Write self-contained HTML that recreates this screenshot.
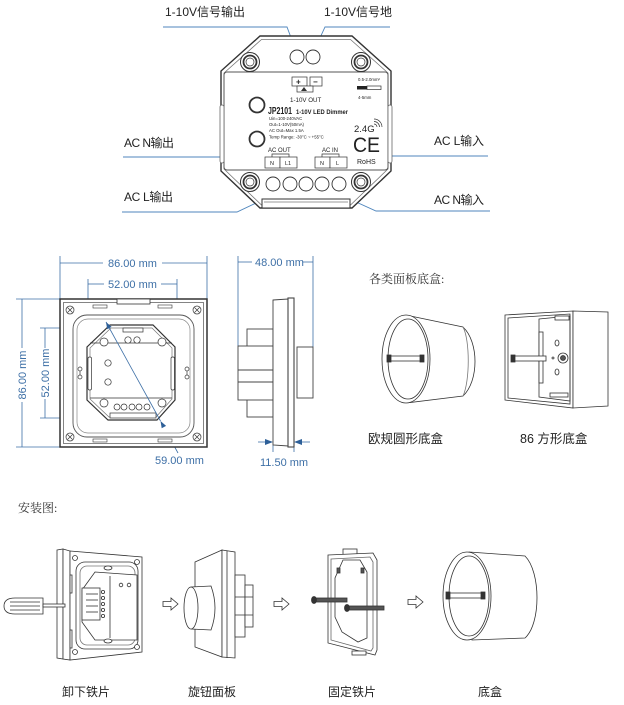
<!DOCTYPE html>
<html><head><meta charset="utf-8"><style>
html,body{margin:0;padding:0;background:#fff;}
svg{display:block}
text{font-family:"Liberation Sans","Noto Sans CJK SC",sans-serif;fill:#222;}
.s{font-family:"Liberation Serif","Noto Serif CJK SC",serif;fill:#333;}
.d{fill:#3d6fa6;font-size:11px;}
</style></head><body>
<svg width="624" height="705" viewBox="0 0 624 705" xmlns="http://www.w3.org/2000/svg">
<rect width="624" height="705" fill="#fff"/>

<!-- ===== TOP DEVICE ===== -->
<g fill="none" stroke="#4f86bd" stroke-width="0.9">
<polyline points="163,27 287,27 296,51"/>
<polyline points="390,27 325,27 314,51"/>
<polyline points="123,157 223,157 273,184"/>
<polyline points="122,212 237,212 288,188"/>
<polyline points="488,156 390,156 340,184"/>
<polyline points="490,211 376,211 323,187"/>
</g>
<text x="165" y="16" font-size="12" textLength="80">1-10V信号输出</text>
<text x="324" y="16" font-size="12" textLength="68">1-10V信号地</text>
<text x="124" y="147" font-size="12" textLength="50">AC N输出</text>
<text x="124" y="201" font-size="12" textLength="49">AC L输出</text>
<text x="434" y="145" font-size="12" textLength="50">AC L输入</text>
<text x="434" y="204" font-size="12" textLength="50">AC N输入</text>

<g stroke="#333" fill="#fff">
<polygon points="260,36 352,36 391,71 391,171 352,208 260,208 221,171 221,71" stroke-width="1.4"/>
<polygon points="261.5,39.5 350.5,39.5 388,73 388,169 350.5,205 261.5,205 224,169 224,73" stroke="#777" stroke-width="0.8"/>
<rect x="224" y="72" width="164" height="98" rx="3" stroke="#555" stroke-width="1"/>
<rect x="388" y="105" width="4" height="58" rx="2" stroke="#666" stroke-width="0.8"/>
<rect x="220" y="105" width="4" height="58" rx="2" stroke="#666" stroke-width="0.8"/>
<rect x="262" y="199" width="88" height="9" stroke-width="1"/>
<line x1="264" y1="202" x2="348" y2="202" stroke="#777" stroke-width="0.7"/>
</g>
<g stroke="#333" fill="#fff">
<circle cx="250" cy="62" r="9.5" stroke-width="1"/><circle cx="250" cy="62" r="6.5" stroke-width="1.8"/><circle cx="250" cy="62" r="4" stroke-width="0.7"/>
<circle cx="361" cy="62" r="9.5" stroke-width="1"/><circle cx="361" cy="62" r="6.5" stroke-width="1.8"/><circle cx="361" cy="62" r="4" stroke-width="0.7"/>
<circle cx="250" cy="182" r="9.5" stroke-width="1"/><circle cx="250" cy="182" r="6.5" stroke-width="1.8"/><circle cx="250" cy="182" r="4" stroke-width="0.7"/>
<circle cx="361" cy="182" r="9.5" stroke-width="1"/><circle cx="361" cy="182" r="6.5" stroke-width="1.8"/><circle cx="361" cy="182" r="4" stroke-width="0.7"/>
<circle cx="297" cy="57" r="7" stroke-width="0.9"/><circle cx="313" cy="57" r="7" stroke-width="0.9"/>
<circle cx="273" cy="184" r="7" stroke-width="0.9"/><circle cx="290" cy="184" r="7" stroke-width="0.9"/>
<circle cx="306" cy="184" r="7" stroke-width="0.9"/><circle cx="322" cy="184" r="7" stroke-width="0.9"/>
<circle cx="339" cy="184" r="7" stroke-width="0.9"/>
<circle cx="257" cy="105" r="7.5" stroke-width="1.8"/><circle cx="257" cy="139" r="7.5" stroke-width="1.8"/>
</g>
<g stroke="#333" fill="#fff" stroke-width="0.7">
<rect x="292" y="77" width="15" height="9"/><rect x="310" y="77" width="12" height="9"/>
<rect x="297" y="86" width="16" height="6"/>
<rect x="265" y="157" width="15" height="11"/><rect x="280" y="157" width="17" height="11"/>
<rect x="315" y="157" width="15" height="11"/><rect x="330" y="157" width="17" height="11"/>
<polyline points="272,157 272,154 289,154 289,157" fill="none"/>
<polyline points="322,157 322,154 339,154 339,157" fill="none"/>
<rect x="367" y="86" width="14" height="3.5"/>
</g>
<rect x="357" y="86" width="10" height="3.5" fill="#222"/>
<polygon points="301,91 304,87 307,91" fill="#333"/>
<text x="296" y="84.5" font-size="8" font-weight="bold">+</text>
<text x="313" y="84.5" font-size="8" font-weight="bold">−</text>
<text x="290" y="102" font-size="6.2">1-10V OUT</text>
<text x="358" y="81" font-size="4.3">0.5-2.0mm²</text>
<text x="358" y="99" font-size="4.3">4-5mm</text>
<text x="268" y="114" font-size="10" font-weight="bold" textLength="24" lengthAdjust="spacingAndGlyphs">JP2101</text>
<text x="296" y="114" font-size="6.8" font-weight="bold" textLength="52" lengthAdjust="spacingAndGlyphs">1-10V LED Dimmer</text>
<text x="269" y="120" font-size="4.3" fill="#444">Uin=100-240VAC</text>
<text x="269" y="126" font-size="4.3" fill="#444">Out=1-10V(50mA)</text>
<text x="269" y="132" font-size="4.3" fill="#444">AC Out=Max 1.5A</text>
<text x="269" y="138.5" font-size="4.3" fill="#444">Temp Range: -30°C ~ +55°C</text>
<text x="354" y="132" font-size="9.5">2.4G</text>
<g fill="none" stroke="#333" stroke-width="0.7">
<path d="M374,124 a3,3 0 0 1 3,3"/><path d="M374,121.5 a5.5,5.5 0 0 1 5.5,5.5"/><path d="M374,119 a8,8 0 0 1 8,8"/>
</g>
<text x="353" y="152" font-size="21" textLength="27" lengthAdjust="spacingAndGlyphs">CE</text>
<text x="357" y="164" font-size="7">RoHS</text>
<text x="268" y="152" font-size="6">AC OUT</text>
<text x="322" y="152" font-size="6">AC IN</text>
<text x="270" y="165" font-size="5.5">N</text><text x="285" y="165" font-size="5.5">L1</text>
<text x="320" y="165" font-size="5.5">N</text><text x="336" y="165" font-size="5.5">L</text>

<!-- ===== DIMENSION FRONT ===== -->
<g fill="none" stroke="#3d6fa6" stroke-width="0.8">
<line x1="60" y1="256" x2="60" y2="299"/><line x1="207" y1="256" x2="207" y2="299"/>
<line x1="60" y1="263" x2="103" y2="263"/><line x1="162" y1="263" x2="207" y2="263"/>
<line x1="88" y1="279" x2="88" y2="347"/><line x1="177" y1="279" x2="177" y2="347"/>
<line x1="88" y1="284" x2="104" y2="284"/><line x1="161" y1="284" x2="177" y2="284"/>
<line x1="16" y1="299" x2="60" y2="299"/><line x1="16" y1="447" x2="60" y2="447"/>
<line x1="22" y1="299" x2="22" y2="348"/><line x1="22" y1="402" x2="22" y2="447"/>
<line x1="40" y1="328" x2="106" y2="328"/><line x1="40" y1="418" x2="160" y2="418"/>
<line x1="45" y1="328" x2="45" y2="348"/><line x1="45" y1="399" x2="45" y2="418"/>
<line x1="106" y1="322" x2="178" y2="453"/>
</g>
<g stroke="#333" fill="#fff">
<rect x="60" y="299" width="147" height="148" stroke-width="1.5"/>
<rect x="63.5" y="302.5" width="140" height="141" stroke="#666" stroke-width="0.8"/>
<rect x="117" y="299" width="33" height="5" stroke-width="0.8"/>
<rect x="93" y="305" width="14" height="3" stroke-width="0.6"/><rect x="158" y="305" width="14" height="3" stroke-width="0.6"/>
<rect x="93" y="439" width="14" height="3" stroke-width="0.6"/><rect x="158" y="439" width="14" height="3" stroke-width="0.6"/>
<rect x="73" y="315" width="121" height="122" rx="14" stroke="#555" stroke-width="0.9" fill="none"/>
<rect x="77" y="319" width="113" height="114" rx="11" stroke="#888" stroke-width="0.7" fill="none"/>
</g>
<g stroke="#333" stroke-width="0.7" fill="#fff">
<circle cx="70" cy="310" r="4"/><circle cx="197" cy="310" r="4"/><circle cx="70" cy="437" r="4"/><circle cx="197" cy="437" r="4"/>
<path d="M67.5,307.5l5,5M72.5,307.5l-5,5M194.5,307.5l5,5M199.5,307.5l-5,5M67.5,434.5l5,5M72.5,434.5l-5,5M194.5,434.5l5,5M199.5,434.5l-5,5"/>
<path d="M80,367 a2,2 0 0 1 0,4 v4 a2,2 0 0 1 0,4 a2,2 0 0 1 0,-4 v-4 a2,2 0 0 1 0,-4z"/>
<path d="M187,367 a2,2 0 0 1 0,4 v4 a2,2 0 0 1 0,4 a2,2 0 0 1 0,-4 v-4 a2,2 0 0 1 0,-4z"/>
<polygon points="110,325 153,325 175,347 175,400 157,420 108,420 87,400 87,347" stroke-width="1.2"/>
<polygon points="111,328 152,328 172,348 172,399 156,417 109,417 90,399 90,348" stroke="#777" fill="none"/>
<line x1="90" y1="343" x2="172" y2="343"/><line x1="90" y1="398" x2="172" y2="398"/>
<rect x="123" y="328" width="20" height="4"/>
<rect x="88" y="357" width="3.5" height="33" rx="1.5"/><rect x="171" y="357" width="3.5" height="33" rx="1.5"/>
<circle cx="104" cy="342" r="4"/><circle cx="162" cy="342" r="4"/><circle cx="104" cy="403" r="4"/><circle cx="162" cy="403" r="4"/>
<circle cx="128" cy="340" r="3.2"/><circle cx="137" cy="340" r="3.2"/>
<circle cx="108" cy="363" r="3.2"/><circle cx="108" cy="382" r="3.2"/>
<circle cx="117" cy="407" r="3"/><circle cx="124" cy="407" r="3"/><circle cx="132" cy="407" r="3"/><circle cx="139" cy="407" r="3"/><circle cx="147" cy="407" r="3"/>
<rect x="110" y="413" width="46" height="5"/>
</g>
<line x1="106" y1="322" x2="160.5" y2="421" stroke="#3d6fa6" stroke-width="0.8"/>
<polygon points="106,322 107.2,329.3 111.6,326.9" fill="#2d5f98"/>
<polygon points="160.5,421 161.7,428.3 166.1,425.9" fill="#2d5f98"/>
<text class="d" x="108" y="267">86.00 mm</text>
<text class="d" x="108" y="288">52.00 mm</text>
<text class="d" x="155" y="464">59.00 mm</text>
<text class="d" transform="translate(26,375) rotate(-90)" text-anchor="middle">86.00 mm</text>
<text class="d" transform="translate(49,373) rotate(-90)" text-anchor="middle">52.00 mm</text>

<!-- ===== SIDE VIEW ===== -->
<g fill="none" stroke="#3d6fa6" stroke-width="0.8">
<line x1="238" y1="256" x2="238" y2="346"/><line x1="313" y1="256" x2="313" y2="347"/>
<line x1="238" y1="262" x2="252" y2="262"/><line x1="303" y1="262" x2="313" y2="262"/>
<line x1="273" y1="445" x2="273" y2="452"/><line x1="294" y1="447" x2="294" y2="452"/>
<line x1="258" y1="442" x2="268" y2="442"/><line x1="299" y1="442" x2="310" y2="442"/>
</g>
<polygon points="273,442 265,439 265,445" fill="#2d5f98"/>
<polygon points="294,442 302,439 302,445" fill="#2d5f98"/>
<g stroke="#444" fill="#fff" stroke-width="0.9">
<rect x="247" y="329" width="26" height="88"/>
<rect x="238" y="346" width="35" height="54"/>
<line x1="238" y1="370" x2="273" y2="370"/><line x1="238" y1="382" x2="273" y2="382"/>
<polygon points="273,300 288,299 288,446 273,445"/>
<rect x="288" y="298" width="6" height="149" stroke-width="1.1"/>
<rect x="297" y="347" width="16" height="51"/>
</g>
<text class="d" x="255" y="266">48.00 mm</text>
<text class="d" x="260" y="466">11.50 mm</text>

<!-- ===== BOX TYPES ===== -->
<text class="s" x="369" y="283" font-size="12">各类面板底盒:</text>
<g stroke="#333" fill="#fff" stroke-width="0.8">
<path d="M408,315.5 L463,327 C479,342 479,381 463,396 L410,402.5 Z"/>
<path d="M463,327 C470,340 470,381 463,396" fill="none" stroke="#777"/>
<ellipse cx="406" cy="359" rx="24" ry="44"/>
<ellipse cx="408" cy="359" rx="20" ry="40"/>
<rect x="390" y="356" width="33" height="5"/>
<rect x="387" y="355" width="4" height="7" fill="#333"/><rect x="420" y="355" width="4" height="7" fill="#333"/>
</g>
<g stroke="#333" fill="#fff" stroke-width="0.8">
<polygon points="505,315 573,311 573,408 505,400"/>
<polygon points="573,311 608,312 608,406 573,408"/>
<polygon points="508,318 570,314 570,404 508,398"/>
<polygon points="539,319 570,316 570,401 539,397" fill="none"/>
<rect x="539" y="332" width="4" height="51"/>
<rect x="555" y="316" width="14" height="4"/><rect x="550" y="393" width="18" height="4"/>
<ellipse cx="557" cy="343" rx="2" ry="3"/><ellipse cx="557" cy="372" rx="2" ry="3"/>
<circle cx="563" cy="358" r="5"/><circle cx="563" cy="358" r="2.5" fill="#555"/>
<circle cx="553" cy="358" r="1"/>
<rect x="513" y="356" width="33" height="5"/>
<rect x="511" y="355" width="4" height="7" fill="#333"/>
</g>
<text x="368" y="443" font-size="12.5">欧规圆形底盒</text>
<text x="520" y="443" font-size="12.5">86 方形底盒</text>

<!-- ===== INSTALLATION ===== -->
<text class="s" x="18" y="512" font-size="12">安装图:</text>
<!-- panel 1 -->
<g stroke="#333" fill="#fff" stroke-width="0.8">
<polygon points="57,550 63,549 63,659 57,658"/>
<polygon points="63,549 70,551 70,660 63,659"/>
<polygon points="70,551 142,557 142,652 70,660"/>
<rect x="76" y="562" width="62" height="87" rx="9" fill="none"/>
<rect x="80" y="566" width="55" height="79" rx="7" fill="none" stroke="#777"/>
<circle cx="75" cy="558" r="2.5"/><circle cx="137" cy="562" r="2.5"/><circle cx="75" cy="652" r="2.5"/><circle cx="137" cy="647" r="2.5"/>
<polygon points="82,590 95,572 137,575 137,640 95,640 82,622"/>
<rect x="82" y="588" width="18" height="32"/>
<line x1="86" y1="594" x2="98" y2="594"/><line x1="86" y1="600" x2="98" y2="600"/><line x1="86" y1="606" x2="98" y2="606"/><line x1="86" y1="612" x2="98" y2="612"/>
<circle cx="103" cy="592" r="1.6"/><circle cx="103" cy="598" r="1.6"/><circle cx="103" cy="604" r="1.6"/><circle cx="103" cy="610" r="1.6"/><circle cx="103" cy="616" r="1.6"/>
<line x1="110" y1="576" x2="110" y2="638"/>
<circle cx="121" cy="585" r="1.8"/><circle cx="129" cy="585" r="1.8"/>
<ellipse cx="108" cy="568" rx="4" ry="2"/><ellipse cx="108" cy="641" rx="4" ry="2"/>
<rect x="70" y="575" width="2" height="18"/><rect x="70" y="630" width="2" height="18"/>
<path d="M43,598 L15,598 Q4,598 4,606 Q4,614 15,614 L43,614 Z"/>
<line x1="10" y1="602" x2="40" y2="602"/><line x1="10" y1="606" x2="40" y2="606"/><line x1="10" y1="610" x2="40" y2="610"/>
<rect x="43" y="604" width="22" height="3"/>
</g>
<!-- arrows -->
<g stroke="#333" fill="#fff" stroke-width="0.8">
<path d="M163,601.5 h8 v-3.5 l7,6 l-7,6 v-3.5 h-8 z"/>
<path d="M274,601.5 h8 v-3.5 l7,6 l-7,6 v-3.5 h-8 z"/>
<path d="M408,599.5 h8 v-3.5 l7,6 l-7,6 v-3.5 h-8 z"/>
</g>
<!-- panel 2 -->
<g stroke="#333" fill="#fff" stroke-width="0.8">
<polygon points="195,562 222,550 222,657 195,647"/>
<polygon points="222,550 235,552 235,658 222,657"/>
<line x1="227" y1="551" x2="227" y2="658"/>
<rect x="235" y="575" width="10" height="62"/>
<rect x="245" y="585" width="8" height="42"/>
<line x1="235" y1="597" x2="253" y2="597"/><line x1="235" y1="615" x2="253" y2="615"/>
<path d="M191,587 L211,586 Q219,608 211,630 L191,629 Z"/>
<ellipse cx="191" cy="608" rx="7" ry="21"/>
</g>
<!-- panel 3 -->
<g stroke="#333" fill="#fff" stroke-width="0.8">
<rect x="343" y="549" width="14" height="6"/>
<polygon points="328,555 373,553 377,560 377,650 375,655 328,643"/>
<polygon points="331,559 370,557 373,562 373,648 371,651 331,640" fill="none" stroke="#666"/>
<polygon points="343,560 360,560 367,572 367,638 358,642 342,632 335,617 335,578"/>
<rect x="337" y="568" width="3" height="5" fill="#555"/><rect x="361" y="568" width="3" height="5" fill="#555"/>
<rect x="352" y="651" width="14" height="4"/>
<rect x="316" y="598" width="31" height="4" fill="#555"/>
<ellipse cx="314" cy="600" rx="2.5" ry="3.5" fill="#333"/>
<rect x="349" y="606" width="35" height="4" fill="#555"/>
<ellipse cx="347" cy="608" rx="2.5" ry="3.5" fill="#333"/>
</g>
<!-- box 4 -->
<g stroke="#333" fill="#fff" stroke-width="0.8">
<path d="M469,552 L525,556 C541,572 541,624 525,638 L472,640 Z"/>
<ellipse cx="467" cy="596" rx="24" ry="44"/>
<ellipse cx="469" cy="596" rx="20" ry="40"/>
<rect x="449" y="593" width="35" height="5"/>
<rect x="446" y="592" width="4" height="7" fill="#333"/><rect x="481" y="592" width="4" height="7" fill="#333"/>
</g>
<text x="62" y="696" font-size="12">卸下铁片</text>
<text x="188" y="696" font-size="12">旋钮面板</text>
<text x="328" y="696" font-size="12">固定铁片</text>
<text x="478" y="696" font-size="12">底盒</text>
</svg>
</body></html>
